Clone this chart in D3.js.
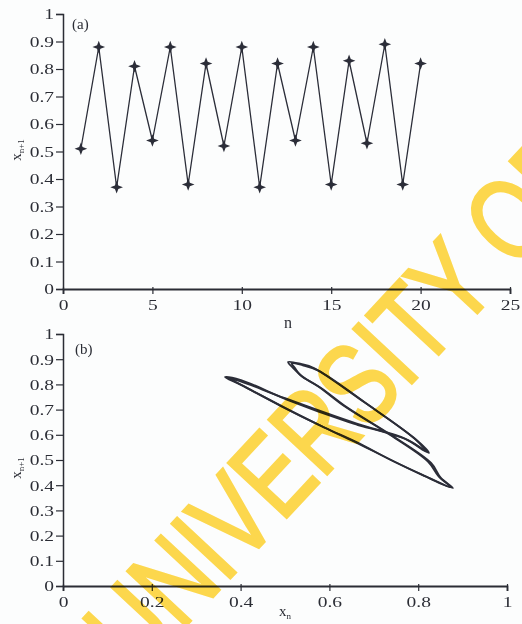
<!DOCTYPE html>
<html>
<head>
<meta charset="utf-8">
<script src="https://cdn.jsdelivr.net/npm/d3@7"></script>
<style>
  body { margin: 0; background: #fcfdfd; }
  svg { display: block; }
  .axis path, .axis line { stroke: #2b2d35; }
  .axis text { font-family: "Liberation Serif", "Times New Roman", serif; font-size: 15px; fill: #2b2d35; }
  .lbl { font-family: "Liberation Serif", "Times New Roman", serif; fill: #2b2d35; }
</style>
</head>
<body>
<svg id="chart" width="522" height="624"></svg>
<script>
// (a) time series x(n), n = 1..20
var nVals = [1,2,3,4,5,6,7,8,9,10,11,12,13,14,15,16,17,18,19,20];
var xVals = [0.51,0.88,0.37,0.81,0.54,0.88,0.38,0.82,0.52,0.88,0.37,0.82,0.54,0.88,0.38,0.83,0.53,0.89,0.38,0.82];

// (b) return map x(n+1) vs x(n) (two laps round the loop)
var lap1Xn  = [0.365,0.401,0.491,0.581,0.649,0.739,0.806,0.878,0.851,0.829,0.739,0.642,0.581,0.540,0.518,0.507,0.536,0.565,0.678,0.791,0.824,0.777,0.664,0.642,0.507,0.401];
var lap1Xn1 = [0.829,0.798,0.714,0.635,0.579,0.500,0.444,0.389,0.429,0.488,0.599,0.706,0.786,0.830,0.866,0.889,0.881,0.865,0.730,0.587,0.528,0.579,0.639,0.651,0.738,0.817];
var lap2Xn  = [0.372,0.410,0.500,0.590,0.660,0.745,0.810,0.873,0.846,0.822,0.730,0.635,0.575,0.535,0.522,0.515,0.540,0.575,0.685,0.795,0.818,0.770,0.660,0.500,0.400];
var lap2Xn1 = [0.826,0.790,0.707,0.628,0.572,0.494,0.440,0.392,0.435,0.494,0.607,0.712,0.792,0.836,0.866,0.884,0.876,0.855,0.722,0.580,0.533,0.585,0.645,0.745,0.812];

var nTicks = [0,5,10,15,20,25];
var xTicksB = [0,0.2,0.4,0.6,0.8,1];
var yTicks = [0,0.1,0.2,0.3,0.4,0.5,0.6,0.7,0.8,0.9,1];

var ink = "#2b2d38";
var svg = d3.select("#chart");

var xa = d3.scaleLinear().domain([0,25]).range([63,510]);
var ya = d3.scaleLinear().domain([0,1]).range([289,14]);
var xb = d3.scaleLinear().domain([0,1]).range([63,507]);
var yb = d3.scaleLinear().domain([0,1]).range([586,334]);

function fmt(d){ return d3.format("~g")(d); }

// the scanned figure has wide, stretched digits
function widen(sel, k){
  sel.each(function(){
    var w = this.getComputedTextLength();
    d3.select(this).attr("textLength", w * k).attr("lengthAdjust","spacingAndGlyphs");
  });
}

function drawAxes(xs, ys, xt){
  var gx = svg.append("g").attr("class","axis")
    .attr("transform","translate(0," + ys(0) + ")")
    .call(d3.axisBottom(xs).tickValues(xt).tickFormat(fmt).tickSizeOuter(0).tickSize(5).tickPadding(5));
  gx.select(".domain").attr("stroke-width",1.8);
  gx.selectAll(".tick line").attr("y1",-2).attr("stroke-width",1.2);
  widen(gx.selectAll(".tick text"), 1.3);
  var gy = svg.append("g").attr("class","axis")
    .attr("transform","translate(" + xs(0) + ",0)")
    .call(d3.axisLeft(ys).tickValues(yTicks).tickFormat(fmt).tickSizeOuter(0).tickSize(7).tickPadding(2));
  gy.select(".domain").attr("stroke-width",1.5);
  gy.selectAll(".tick line").attr("stroke-width",1.2);
  widen(gy.selectAll(".tick text"), 1.3);
}

// 4-point star marker
var star4 = {
  draw: function(ctx, size){
    var r = Math.sqrt(size), ri = r * 0.38;
    for (var i = 0; i < 8; i++){
      var a = i * Math.PI / 4, rr = (i % 2) ? ri : r;
      var px = rr * Math.sin(a), py = -rr * Math.cos(a);
      if (i === 0) ctx.moveTo(px, py); else ctx.lineTo(px, py);
    }
    ctx.closePath();
  }
};

// ---- panel (a)
drawAxes(xa, ya, nTicks);
var serA = nVals.map(function(n,i){ return [n, xVals[i]]; });
svg.append("path").datum(serA)
  .attr("fill","none").attr("stroke",ink).attr("stroke-width",1.3)
  .attr("d", d3.line().x(function(d){ return xa(d[0]); }).y(function(d){ return ya(d[1]); }));
svg.append("g").selectAll("path").data(serA).enter().append("path")
  .attr("transform", function(d){ return "translate(" + xa(d[0]) + "," + ya(d[1]) + ")"; })
  .attr("d", d3.symbol().type(star4).size(40))
  .attr("fill", ink);

svg.append("text").attr("class","lbl").attr("x",72).attr("y",29).attr("font-size",15).text("(a)");
svg.append("text").attr("class","lbl").attr("x",288).attr("y",328).attr("font-size",16).attr("text-anchor","middle").text("n");
var yl1 = svg.append("text").attr("class","lbl").attr("font-size",15)
  .attr("transform","translate(21,150) rotate(-90)").attr("text-anchor","middle");
yl1.append("tspan").text("x");
yl1.append("tspan").attr("font-size",9).attr("dy",3).text("n+1");

// ---- panel (b)
drawAxes(xb, yb, xTicksB);
var line = d3.line().x(function(d){ return xb(d[0]); }).y(function(d){ return yb(d[1]); })
  .curve(d3.curveCatmullRomClosed.alpha(0.5));
var laps = [
  lap1Xn.map(function(v,i){ return [v, lap1Xn1[i]]; }),
  lap2Xn.map(function(v,i){ return [v, lap2Xn1[i]]; })
];
svg.append("g").selectAll("path").data(laps).enter().append("path")
  .attr("fill","none").attr("stroke",ink).attr("stroke-width",1.9)
  .attr("stroke-linejoin","round")
  .attr("d", line);

svg.append("text").attr("class","lbl").attr("x",75).attr("y",354).attr("font-size",15).text("(b)");
var xl2 = svg.append("text").attr("class","lbl").attr("x",285).attr("y",616).attr("font-size",15).attr("text-anchor","middle");
xl2.append("tspan").text("x");
xl2.append("tspan").attr("font-size",9).attr("dy",3).text("n");
var yl2 = svg.append("text").attr("class","lbl").attr("font-size",15)
  .attr("transform","translate(21,468) rotate(-90)").attr("text-anchor","middle");
yl2.append("tspan").text("x");
yl2.append("tspan").attr("font-size",9).attr("dy",3).text("n+1");

// watermark
svg.append("text")
  .attr("transform","translate(137,678) rotate(-47) scale(0.765,1)")
  .attr("font-family","Liberation Sans, Arial, sans-serif")
  .attr("font-size",116)
  .attr("fill","#ffd22e")
  .attr("stroke","#ffd22e")
  .attr("stroke-width",3)
  .attr("opacity",0.85)
  .style("mix-blend-mode","multiply")
  .text("UNIVERSITY OF");
</script>
</body>
</html>
